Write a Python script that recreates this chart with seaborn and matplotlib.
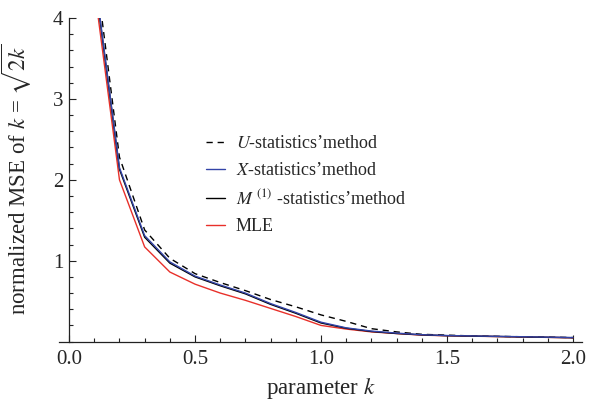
import matplotlib
matplotlib.use("Agg")
import matplotlib.pyplot as plt
import seaborn as sns
import pandas as pd
from matplotlib.ticker import MultipleLocator

k_values = [0.1, 0.2, 0.3, 0.4, 0.5, 0.6, 0.7, 0.8, 0.9, 1.0,
            1.1, 1.2, 1.3, 1.4, 1.5, 1.6, 1.7, 1.8, 1.9, 2.0]
u_stat = [4.74, 2.28, 1.38, 1.03, 0.84, 0.73, 0.63, 0.52, 0.43, 0.33,
          0.25, 0.16, 0.12, 0.09, 0.08, 0.07, 0.065, 0.06, 0.055, 0.05]
x_stat = [4.55, 2.15, 1.31, 0.985, 0.81, 0.70, 0.60, 0.47, 0.36, 0.24,
          0.17, 0.13, 0.105, 0.085, 0.075, 0.07, 0.065, 0.06, 0.055, 0.05]
m_stat = [4.52, 2.13, 1.29, 0.97, 0.80, 0.69, 0.59, 0.46, 0.35, 0.23,
          0.165, 0.125, 0.10, 0.083, 0.073, 0.068, 0.063, 0.058, 0.053, 0.048]
mle = [4.38, 2.00, 1.17, 0.86, 0.71, 0.60, 0.51, 0.41, 0.31, 0.20,
       0.155, 0.12, 0.10, 0.08, 0.072, 0.067, 0.062, 0.057, 0.052, 0.047]

labels = [r"$U$-statistics’method", r"$X$-statistics’method",
          r"$M^{\ (1)}$ -statistics’method", "MLE"]

sns.set_style("ticks")
plt.rcParams["font.family"] = ["Liberation Serif", "DejaVu Serif"]
plt.rcParams["mathtext.fontset"] = "stix"

fig = plt.figure(figsize=(5.91, 4.01), dpi=100)
ax = fig.add_axes([59 / 591, (401 - 341.6) / 401, 523 / 591, (341.6 - 18) / 401])

df = pd.DataFrame({"k": k_values, "U": u_stat, "X": x_stat, "M": m_stat, "MLE": mle})

sns.lineplot(data=df, x="k", y="U", ax=ax, color="black", lw=1.0,
             linestyle=(0, (4.5, 3.5)), label=labels[0])
sns.lineplot(data=df, x="k", y="M", ax=ax, color="black", lw=1.0, label=labels[2], zorder=3)
sns.lineplot(data=df, x="k", y="X", ax=ax, color="#3344a8", lw=1.0, label=labels[1], zorder=4)
sns.lineplot(data=df, x="k", y="MLE", ax=ax, color="#e8302a", lw=1.0, label=labels[3], zorder=2)

ax.set_xlim(-0.04, 2.036)
ax.set_ylim(0, 4)

ax.spines["left"].set_position(("data", 0))
ax.spines["right"].set_visible(False)
ax.spines["top"].set_visible(False)
for s in ("left", "bottom"):
    ax.spines[s].set_linewidth(0.9)
    ax.spines[s].set_color("#222222")

ax.xaxis.set_minor_locator(MultipleLocator(0.1))
ax.yaxis.set_minor_locator(MultipleLocator(0.2))
ax.set_xticks([0.0, 0.5, 1.0, 1.5, 2.0])
ax.set_xticklabels(["0.0", "0.5", "1.0", "1.5", "2.0"])
ax.set_yticks([1, 2, 3, 4])
ax.set_yticklabels(["1", "2", "3", "4"])
ax.tick_params(which="major", direction="in", length=5, width=0.8, labelsize=15, color="#222222")
ax.tick_params(which="minor", direction="in", length=3, width=0.8, color="#222222")
ax.tick_params(axis="x", which="major", pad=6)
ax.tick_params(axis="y", which="major", pad=4)

ax.set_xlabel(r"parameter $k$", fontsize=16.5, labelpad=5)
ax.set_ylabel(r"normalized MSE of $k$ = $\sqrt{2k}$", fontsize=16.5)
ax.yaxis.set_label_coords((34 - 59) / 523, 0.5)

handles, labs = ax.get_legend_handles_labels()
order = [labs.index(l) for l in labels]
leg = ax.legend([handles[i] for i in order], [labs[i] for i in order],
                loc="upper left", bbox_to_anchor=((206 - 59) / 523, (341.6 - 135) / 323.6),
                frameon=False, fontsize=13, handlelength=1.05, handletextpad=0.6,
                labelspacing=0.55, borderpad=0, borderaxespad=0)

fig.savefig("out.png", dpi=100)
